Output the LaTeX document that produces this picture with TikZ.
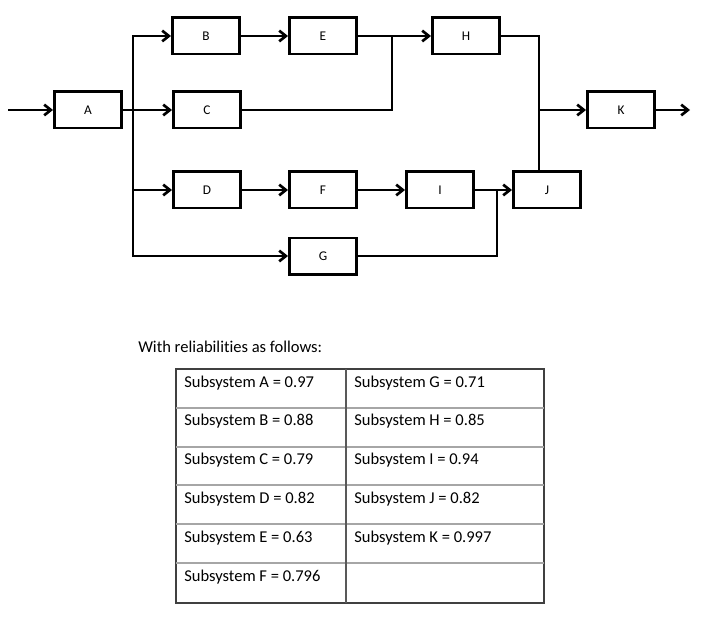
\documentclass[tikz,border=0pt]{standalone}
\usepackage{fontspec}
\setmainfont{Carlito}[Ligatures=NoCommon]
\usetikzlibrary{arrows.meta}

\begin{document}
\begin{tikzpicture}[
    x=0.75pt, y=-0.75pt,
    block/.style={rectangle, draw, line width=2pt, minimum width=50.5pt, minimum height=27.25pt, inner sep=0pt, font=\fontsize{10}{12}\selectfont},
    wire/.style={line width=2pt, line cap=rect},
    arrow/.style={wire, -{Straight Barb[length=5pt, width=8pt]}},
    cell/.style={anchor=base west, inner sep=0pt, font=\fontsize{12.4}{14}\selectfont}
]
\useasboundingbox (0,0) rectangle (708,617);

% Subsystem blocks
\node[block] (A) at (88,110) {A};
\node[block] (B) at (206,36) {B};
\node[block] (C) at (207,110) {C};
\node[block] (D) at (207,190) {D};
\node[block] (E) at (323,36) {E};
\node[block] (F) at (323,190) {F};
\node[block] (G) at (323,256) {G};
\node[block] (H) at (466,36) {H};
\node[block] (I) at (440,190) {I};
\node[block] (J) at (547,190) {J};
\node[block] (K) at (621,110) {K};

% Junction points
\coordinate (in) at (9,110);
\coordinate (out) at (690,110);
\coordinate (top) at (133,36);
\coordinate (mid) at (133,190);
\coordinate (bot) at (133,256);
\coordinate (jEH) at (392,36);
\coordinate (jH) at (539,36);
\coordinate (jK) at (539,110);
\coordinate (jIJ) at (497,190);

% Connections
\draw[arrow] (in) -- (A);
\draw[arrow] (A) -- (C);
\draw[arrow] (top) -- (B);
\draw[arrow] (top) -- (bot) -- (G);
\draw[arrow] (mid) -- (D);
\draw[arrow] (B) -- (E);
\draw[arrow] (E) -- (H);
\draw[wire] (C) -| (jEH);
\draw[wire] (H) -- (jH) -- (jH |- J.north);
\draw[arrow] (jK) -- (K);
\draw[arrow] (K) -- (out);
\draw[arrow] (D) -- (F);
\draw[arrow] (F) -- (I);
\draw[arrow] (I) -- (J);
\draw[wire] (G) -| (jIJ);

% Reliability table
\node[cell] (caption) at (138,352) {With reliabilities as follows:};
\draw[line width=1pt, black!75] (176,369) rectangle (544,603);
\foreach \y in {408,447,485,524,563}
    \draw[line width=0.9pt, black!35] (176,\y) -- (544,\y);
\draw[line width=0.9pt, black!65] (346,369) -- (346,603);

\foreach \n/\v [count=\i from 0] in {A/0.97, B/0.88, C/0.79, D/0.82, E/0.63, F/0.796}
    \node[cell] (s\n) at (184,387+38.8*\i) {Subsystem \n{} = \v};
\foreach \n/\v [count=\i from 0] in {G/0.71, H/0.85, I/0.94, J/0.82, K/0.997}
    \node[cell] (s\n) at (354,387+38.8*\i) {Subsystem \n{} = \v};

\end{tikzpicture}
\end{document}
